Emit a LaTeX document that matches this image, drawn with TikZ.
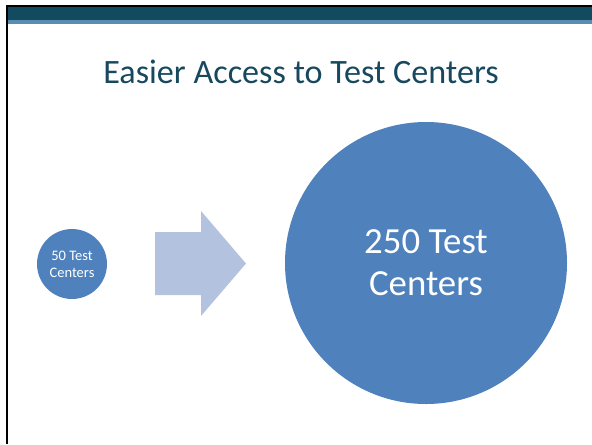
\documentclass[tikz,border=0pt]{standalone}
\usepackage{fontspec}
\setmainfont{Carlito}
\usetikzlibrary{positioning}
\definecolor{barteal}{RGB}{18,74,96}
\definecolor{barlight}{RGB}{91,141,179}
\definecolor{titleteal}{RGB}{23,72,94}
\definecolor{circblue}{RGB}{79,129,189}
\definecolor{arrowblue}{RGB}{179,194,222}

\begin{document}
\begin{tikzpicture}[x=0.75pt,y=-0.75pt,
    centers/.style={circle,fill=circblue,text=white,align=center,inner sep=0pt}]
    \useasboundingbox (0,0) rectangle (592,444);
    % header bar and frame
    \fill[barteal] (7,7) rectangle (592,20);
    \fill[barlight] (6,20) rectangle (592,24);
    \draw[line width=1.5pt] (7,444) -- (7,6) -- (592,6);
    \node[anchor=base,text=titleteal,font=\fontsize{25.6}{30}\selectfont] (title) at (301,83) {Easier Access to Test Centers};
    % before and after
    \node[centers,minimum size=52.5pt,font=\fontsize{10.9}{12.75}\selectfont] (few) at (72,264) {50 Test\\Centers};
    \node[centers,minimum size=211.5pt,font=\fontsize{27.6}{31.5}\selectfont] (many) at (426,263) {250 Test\\Centers};
    \fill[arrowblue] (155,232) -- (201,232) -- (201,211) -- (246,263.5) -- (201,316) -- (201,295) -- (155,295) -- cycle;
\end{tikzpicture}
\end{document}
